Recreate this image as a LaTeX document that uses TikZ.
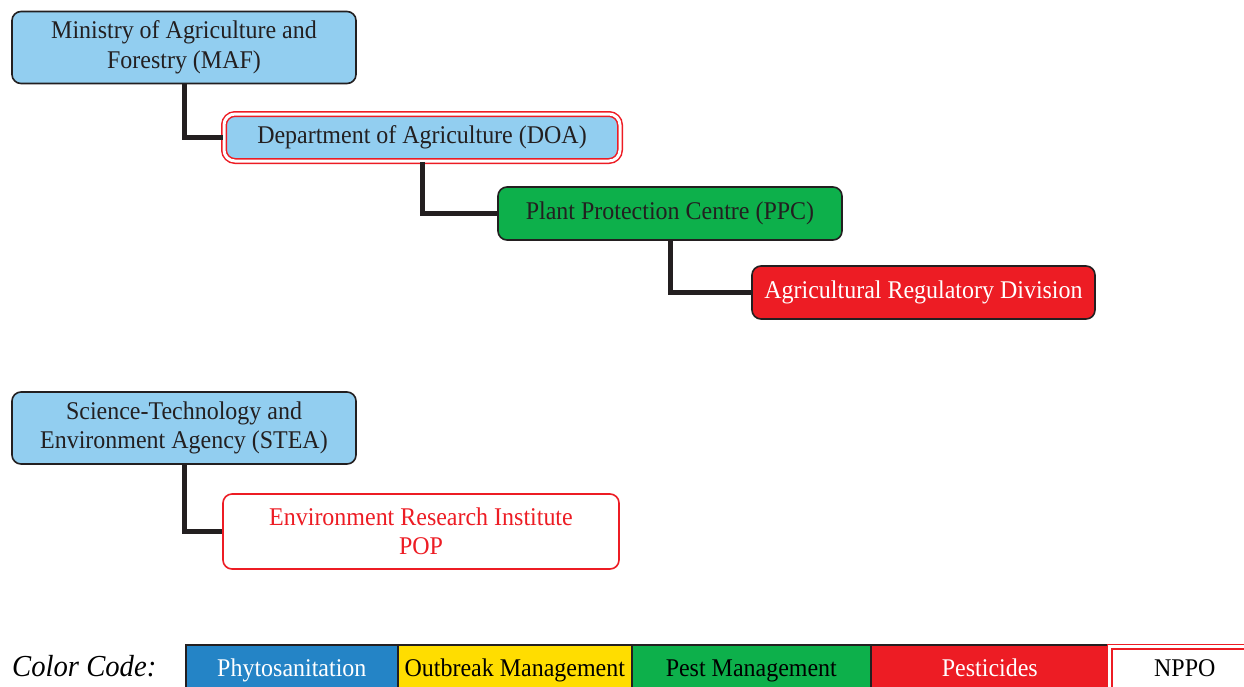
\documentclass[tikz,border=0pt]{standalone}
\usepackage{fontspec}
\setmainfont{Liberation Serif}[FakeStretch=0.94]
\definecolor{lblue}{HTML}{92CEF0}
\definecolor{dgreen}{HTML}{0DB04B}
\definecolor{bred}{HTML}{ED1C24}
\definecolor{dark}{HTML}{231F20}
\definecolor{legblue}{HTML}{2484C6}
\definecolor{legyellow}{HTML}{FFDD00}
\begin{document}
\begin{tikzpicture}[x=1pt,y=-1pt,
  box/.style={rectangle,rounded corners=9pt,draw=dark,line width=1.6pt,align=center,
    font=\fontsize{25.5}{29.5}\selectfont,text=dark,inner sep=0pt},
  conn/.style={draw=dark,line width=5pt},
  leg/.style={rectangle,draw=dark,line width=1.6pt,anchor=north west,
    font=\fontsize{25.5}{30}\selectfont,inner sep=0pt,text height=32pt,text depth=28pt}
]
\useasboundingbox (0,0) rectangle (1244,686);
\fill[white] (0,0) rectangle (1244,686);

\node[box,fill=lblue,minimum width=344pt,minimum height=72pt] (maf) at (184,47.5)
  {Ministry of Agriculture and\\Forestry (MAF)};
\node[box,fill=lblue,draw=bred,double=white,double distance=3pt,line width=1.5pt,
  minimum width=396pt,minimum height=47pt,rounded corners=11pt] (doa) at (422,137.5)
  {Department of Agriculture (DOA)};
\node[box,fill=dgreen,minimum width=344pt,minimum height=53pt] (ppc) at (670,213.5)
  {Plant Protection Centre (PPC)};
\node[box,fill=bred,text=white,minimum width=343pt,minimum height=53pt] (ard) at (923.5,292.5)
  {Agricultural Regulatory Division};
\node[box,fill=lblue,minimum width=344pt,minimum height=72pt] (stea) at (184,428)
  {Science-Technology and\\Environment Agency (STEA)};
\node[box,fill=white,draw=bred,text=bred,minimum width=396pt,minimum height=75pt] (eri) at (421,531.5)
  {Environment Research Institute\\POP};

\draw[conn] (maf.south) |- (doa.west);
\draw[conn] (doa.south) |- (ppc.west);
\draw[conn] (ppc.south) |- (ard.west);
\draw[conn] (stea.south) |- (eri.west);

\node[font=\fontsize{30.5}{32}\selectfont\itshape,text=black,anchor=base west,inner sep=0pt] (cc) at (12,676) {Color Code:};
\node[leg,fill=legblue,text=white,minimum width=212pt] (l1) at (185,644) {Phytosanitation};
\node[leg,fill=legyellow,text=black,minimum width=234pt] (l2) at (397,644) {Outbreak Management};
\node[leg,fill=dgreen,text=black,minimum width=239pt] (l3) at (631,644) {Pest Management};
\node[leg,fill=bred,text=white,minimum width=238pt] (l4) at (870,644) {Pesticides};
\node[leg,fill=white,text=black,draw=bred,double=white,double distance=3pt,line width=1.5pt,
  minimum width=150pt,text height=30pt] (l5) at (1109,646) {NPPO};
\end{tikzpicture}
\end{document}
